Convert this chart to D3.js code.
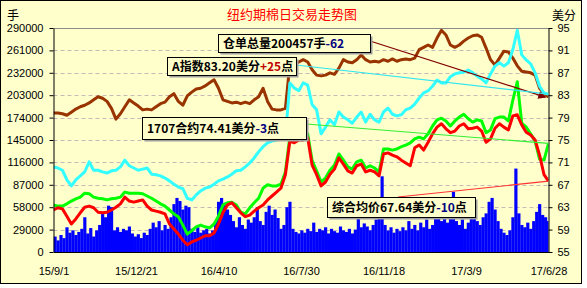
<!DOCTYPE html>
<html>
<head>
<meta charset="utf-8">
<script src="https://cdn.jsdelivr.net/npm/d3@7"></script>
<style>
  body { margin: 0; background: #fff; }
  svg text { font-family: "Liberation Sans", Arial, sans-serif; }
</style>
</head>
<body>
<svg width="587" height="288"></svg>
<script>
// lines are sampled every 6 days, volume every 4 days, both from 2015-09-01
var start = new Date(2015, 8, 1),
    end = new Date(2017, 5, 28),
    lineStep = 6,
    barStep = 4;

// 仓单总量 (thousand 手, left axis)
var receipts = [180,180,179,177,181,185,188,190,193,197,
  201,199,195,186,172,179,188,197,193,189,
  184,185,184,188,192,194,201,205,195,190,
  202,207,211,212,215,219,223,212,197,195,
  193,194,192,194,192,197,201,212,195,185,
  184,184,186,243,243,246,249,246,236,229,
  228,229,232,230,238,249,246,245,249,255,
  249,246,247,246,249,247,250,247,249,250,
  249,251,262,265,268,265,277,287,281,268,
  265,268,273,277,280,281,278,264,249,242,
  251,260,259,251,241,234,233,232,229,212,
  205,200.457];

// A指数 (美分, right axis)
var aIndex = [70.2,70.0,69.6,67.9,66.8,67.9,68.6,69.3,71.1,69.6,
  69.6,69.3,69.1,69.5,69.6,70.2,71.4,70.4,70.0,69.6,
  69.8,70.0,68.9,68.8,68.6,68.2,67.7,67.1,66.6,66.3,
  64.6,64.3,65.2,65.9,66.4,66.6,67.1,67.7,68.0,68.4,
  68.9,69.5,69.6,70.2,70.9,71.8,72.9,73.8,74.5,74.8,
  75.0,75.4,75.5,85.2,84.3,83.8,85.2,84.8,81.3,80.4,
  76.1,77.3,78.6,77.7,80.0,79.1,78.6,78.0,79.1,80.0,
  78.2,79.6,78.6,78.2,80.0,80.7,79.6,79.3,79.5,80.4,
  80.7,81.4,82.5,83.4,83.8,84.6,85.7,85.2,85.2,86.3,
  86.8,87.0,87.1,87.5,87.0,86.4,85.9,85.2,86.8,88.2,
  88.8,88.2,88.8,91.1,94.6,90.2,89.3,88.6,87.0,84.6,
  83.4,83.2];

// 1707合约 (美分)
var c1707 = [63.4,63.2,63.2,63.6,64.1,64.5,64.8,65.5,65.4,64.8,
  64.6,64.5,64.3,64.5,64.6,64.8,65.7,65.5,65.5,65.5,
  65.4,65.0,64.6,64.1,63.6,63.2,62.5,61.8,61.3,59.8,
  58.2,58.8,59.5,59.8,59.5,59.3,60.0,61.4,63.4,63.8,
  63.9,63.4,62.1,61.8,62.9,63.8,64.6,66.4,67.0,66.8,
  66.8,67.1,69.3,75.5,75.2,75.7,75.7,76.1,71.3,69.5,
  67.5,68.2,69.6,70.5,72.5,71.4,70.2,69.8,71.1,71.4,
  70.0,70.4,70.0,69.3,73.4,73.4,73.2,73.4,73.8,74.1,
  74.5,75.2,75.5,75.2,76.1,77.5,78.6,78.9,78.4,77.5,
  78.4,79.1,79.6,78.8,78.2,78.6,78.4,76.3,76.8,78.8,
  79.1,79.1,78.4,82.1,85.4,78.0,77.3,76.1,74.8,71.6,
  71.4,74.41];

// 综合均价 (美分)
var avgPrice = [62.5,62.9,62.7,61.4,60.0,60.9,62.0,63.0,63.2,62.9,
  62.1,62.0,62.1,62.5,63.0,63.6,64.8,64.1,63.9,64.1,
  64.3,63.2,62.5,62.3,62.1,61.8,60.0,59.1,58.2,57.1,
  56.3,56.8,57.1,57.5,57.9,57.9,58.4,60.0,62.0,63.4,
  63.8,62.9,62.0,61.3,61.6,62.3,62.9,63.4,64.3,65.0,
  65.7,66.4,68.8,74.8,74.5,75.0,75.0,75.4,70.5,68.8,
  66.8,67.5,68.9,69.8,71.8,70.7,69.5,69.1,70.4,70.7,
  69.3,69.6,69.3,68.6,72.5,72.7,72.3,72.0,71.4,70.9,
  70.4,73.6,74.1,73.2,74.6,76.1,77.3,77.9,77.0,76.3,
  76.6,77.5,77.9,77.0,77.1,77.3,76.6,74.6,75.2,77.1,
  77.9,77.3,76.8,79.3,79.5,77.7,76.4,75.9,75.0,72.3,
  68.8,67.64];

// 成交量 (thousand 手, left axis)
var volume = [20,15,22,18,32,25,28,22,26,30,
  45,24,31,20,28,35,52,45,60,58,
  28,32,26,30,28,33,24,20,23,18,
  25,22,30,38,32,40,28,35,30,45,
  62,70,66,55,60,58,30,26,32,25,
  28,30,24,28,40,65,70,62,55,48,
  40,32,45,35,30,42,38,45,58,40,
  35,52,60,48,55,44,30,35,58,65,
  30,26,24,28,25,30,27,38,26,30,
  28,32,24,30,27,25,33,28,26,30,
  24,29,44,32,37,33,28,35,42,55,
  98,35,28,32,25,30,27,32,28,40,
  30,35,28,38,32,42,30,35,45,62,
  40,50,38,45,78,40,35,42,30,38,
  45,52,40,35,45,50,65,70,55,40,
  30,25,22,28,45,108,50,35,32,38,
  30,40,52,62,48,45,40];

var leftTicks = d3.range(0, 290001, 29000);
var rightTicks = d3.range(55, 96, 4);
var dateLabels = ["15/9/1", "15/12/21", "16/4/10", "16/7/30", "16/11/18", "17/3/9", "17/6/28"];

var svg = d3.select("svg");
var plotLeft = 53.5, plotRight = 548.5, plotTop = 28, plotBottom = 252;

var x = d3.scaleTime().domain([start, end]).range([plotLeft, plotRight]);
var yL = d3.scaleLinear().domain([0, 290000]).range([plotBottom, plotTop]);
var yR = d3.scaleLinear().domain([55, 95]).range([plotBottom, plotTop]);
var parseDate = d3.timeParse("%y/%m/%d");

function lineDate(i) { return d3.timeDay.offset(start, i * lineStep); }
function barDate(i) { return d3.timeDay.offset(start, i * barStep); }

// background and frame
svg.append("rect")
    .attr("x", 0.5).attr("y", 0.5)
    .attr("width", 581).attr("height", 283)
    .attr("fill", "#FFFFCC")
    .attr("stroke", "#000");

// dashed grid
svg.append("g")
    .selectAll("line")
    .data(leftTicks.slice(1, -1))
    .enter().append("line")
    .attr("x1", plotLeft).attr("x2", plotRight)
    .attr("y1", function(d) { return Math.round(yL(d)) + 0.5; })
    .attr("y2", function(d) { return Math.round(yL(d)) + 0.5; })
    .attr("stroke", "#C8B8B8")
    .attr("stroke-dasharray", "4,3");

svg.append("line")
    .attr("x1", plotLeft).attr("x2", plotRight)
    .attr("y1", plotTop + 0.5).attr("y2", plotTop + 0.5)
    .attr("stroke", "#8C8C8C");

svg.append("clipPath").attr("id", "plot")
  .append("rect")
    .attr("x", plotLeft).attr("y", plotTop)
    .attr("width", plotRight - plotLeft).attr("height", plotBottom - plotTop);

var plot = svg.append("g").attr("clip-path", "url(#plot)");

// volume bars
var barW = x(barDate(1)) - x(barDate(0));
plot.append("g")
    .selectAll("rect")
    .data(volume)
    .enter().append("rect")
    .attr("x", function(d, i) { return x(barDate(i)); })
    .attr("width", barW + 0.2)
    .attr("y", function(d) { return yL(d * 1000); })
    .attr("height", function(d) { return plotBottom - yL(d * 1000); })
    .attr("fill", "#0000FF");

// price / receipt lines
var series = [
  { values: receipts, y: function(d) { return yL(d * 1000); }, color: "#993300" },
  { values: aIndex, y: yR, color: "#33FFFF" },
  { values: c1707, y: yR, color: "#00FF00" },
  { values: avgPrice, y: yR, color: "#FF0000" }
];

series.forEach(function(s) {
  var line = d3.line()
      .x(function(d, i) { return x(lineDate(i)); })
      .y(function(d) { return s.y(d); });
  plot.append("path")
      .datum(s.values)
      .attr("d", line)
      .attr("fill", "none")
      .attr("stroke", s.color)
      .attr("stroke-width", 3)
      .attr("stroke-linejoin", "round");
});

// axes
var axisL = svg.append("g")
    .attr("transform", "translate(" + plotLeft + ",0)")
    .call(d3.axisLeft(yL).tickValues(leftTicks).tickSize(4).tickSizeOuter(0).tickPadding(6).tickFormat(d3.format("d")));
var axisR = svg.append("g")
    .attr("transform", "translate(" + plotRight + ",0)")
    .call(d3.axisRight(yR).tickValues(rightTicks).tickSize(4).tickSizeOuter(0).tickPadding(5));
var axisB = svg.append("g")
    .attr("transform", "translate(0," + plotBottom + ")")
    .call(d3.axisBottom(x).tickValues(dateLabels.map(parseDate)).tickSize(0).tickPadding(15)
      .tickFormat(function(d, i) { return dateLabels[i]; }));

[axisL, axisR, axisB].forEach(function(g) {
  g.attr("font-family", "Liberation Sans, Arial, sans-serif").attr("font-size", 11);
  g.selectAll("text").attr("fill", "#000");
  g.selectAll("line").attr("stroke", "#000");
  g.select(".domain").attr("stroke", "#000");
});

// titles
svg.append("text")
    .attr("x", 292).attr("y", 19)
    .attr("text-anchor", "middle")
    .attr("fill", "#FF0000")
    .style("font-family", "'Noto Sans CJK SC'")
    .style("font-size", "13px")
    .text("纽约期棉日交易走势图");
svg.append("text")
    .attr("x", 7).attr("y", 20)
    .style("font-family", "'Noto Sans CJK SC'")
    .style("font-size", "12px")
    .text("手");
svg.append("text")
    .attr("x", 552).attr("y", 20)
    .style("font-family", "'Noto Sans CJK SC'")
    .style("font-size", "12px")
    .text("美分");

// annotation boxes with leader lines to the last value
var last = receipts.length - 1;
var notes = [
  { box: [218, 34, 152, 18], from: [370, 41], color: "#800000", arrow: true,
    endY: yL(receipts[last] * 1000),
    parts: [["仓单总量200457手", "#000"], ["-62", "#000080"]] },
  { box: [167, 57, 129, 18], from: [296, 65], color: "#33E6F0",
    endY: yR(aIndex[last]),
    parts: [["A指数83.20美分", "#000"], ["+25", "#C00000"], ["点", "#000"]] },
  { box: [142, 117, 164, 22], from: [306, 124], color: "#33EE33",
    endY: yR(c1707[last]),
    parts: [["1707合约74.41美分", "#000"], ["-3", "#000080"], ["点", "#000"]] },
  { box: [327, 197, 148, 20], from: [398, 197], color: "#FF3333",
    endY: yR(avgPrice[last]),
    parts: [["综合均价67.64美分", "#000"], ["-10", "#000080"], ["点", "#000"]] }
];

svg.append("defs").append("marker")
    .attr("id", "arrow")
    .attr("viewBox", "0 0 10 10")
    .attr("refX", 9).attr("refY", 5)
    .attr("markerWidth", 8).attr("markerHeight", 8)
    .attr("markerUnits", "userSpaceOnUse")
    .attr("orient", "auto")
  .append("path")
    .attr("d", "M0,0L10,5L0,10z")
    .attr("fill", "#800000");

var endX = x(lineDate(last));
notes.forEach(function(n) {
  svg.append("line")
      .attr("x1", n.from[0]).attr("y1", n.from[1])
      .attr("x2", n.arrow ? endX - 3 : endX).attr("y2", n.endY)
      .attr("stroke", n.color)
      .attr("stroke-width", 1.2)
      .attr("marker-end", n.arrow ? "url(#arrow)" : null);
});

notes.forEach(function(n) {
  var b = n.box;
  svg.append("rect")
      .attr("x", b[0] + 2.5).attr("y", b[1] + 2.5)
      .attr("width", b[2]).attr("height", b[3])
      .attr("fill", "#A0A0A0");
  svg.append("rect")
      .attr("x", b[0] + 0.5).attr("y", b[1] + 0.5)
      .attr("width", b[2]).attr("height", b[3])
      .attr("fill", "#FFFFCC")
      .attr("stroke", "#000");
  var t = svg.append("text")
      .attr("x", b[0] + 5).attr("y", b[1] + b[3] / 2 + 5)
      .style("font-family", "'Noto Sans CJK SC'")
      .style("font-size", "12px")
      .style("font-weight", "bold");
  n.parts.forEach(function(p) {
    t.append("tspan").attr("fill", p[1]).text(p[0]);
  });
});
</script>
</body>
</html>
